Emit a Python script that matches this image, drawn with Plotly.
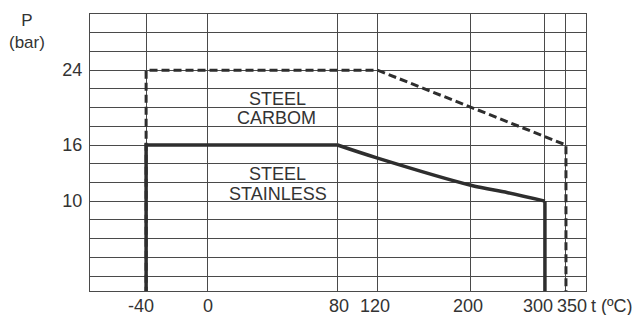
import numpy as np
import plotly.graph_objects as go

# ---- data ----
TEMP_TICKS = [-40, 0, 80, 120, 200, 300, 350]
TEMP_TICK_TEXT = ["-40", "0", "80", "120", "200", "300", "350"]
P_TICKS = [10, 16, 24]
P_TICK_TEXT = ["10", "16", "24"]

carbon_t = [-40, -40, 120, 350, 350]
carbon_p = [0, 24, 24, 16, 0]

stainless_flat_t = [-40, -40, 80]
stainless_flat_p = [0, 16, 16]
stainless_curve_t = [80, 120, 200, 250, 300]
stainless_curve_p = [16, 14.6, 11.7, 10.9, 10]
stainless_end_t = [300, 300]
stainless_end_p = [10, 0]

# ---- schematic (non-linear) temperature scale of the drawing ----
SCALE_POS = [56, 117, 247, 287, 380, 454, 475]
X_RANGE = [0, 495]
# horizontal nudges (px) of the temperature labels, as set in the drawing
LABEL_SHIFT = [-5, 1, 1, -3, -3, -7, 6]


def to_x(t):
    return list(np.interp(t, TEMP_TICKS, SCALE_POS))


INK = "#2e2e2e"
GRID = "#4a4a4a"
TXT = "#333333"
FONT = "Liberation Sans, Arial, sans-serif"
FS = 18

fig = go.Figure()
fig.add_trace(go.Scatter(x=to_x(carbon_t), y=carbon_p, mode="lines",
                         line=dict(color=INK, width=3, dash="8px,4px"),
                         hoverinfo="skip", showlegend=False))
fig.add_trace(go.Scatter(x=to_x(stainless_flat_t), y=stainless_flat_p, mode="lines",
                         line=dict(color=INK, width=3.5),
                         hoverinfo="skip", showlegend=False))
fig.add_trace(go.Scatter(x=to_x(stainless_curve_t), y=stainless_curve_p, mode="lines",
                         line=dict(color=INK, width=3.5, shape="spline", smoothing=1),
                         hoverinfo="skip", showlegend=False))
fig.add_trace(go.Scatter(x=to_x(stainless_end_t), y=stainless_end_p, mode="lines",
                         line=dict(color=INK, width=3.5),
                         hoverinfo="skip", showlegend=False))

font = dict(size=FS, color=TXT, family=FONT)

# temperature tick labels
for xv, txt, sh in zip(to_x(TEMP_TICKS), TEMP_TICK_TEXT, LABEL_SHIFT):
    fig.add_annotation(x=xv, y=-0.054, xref="x", yref="paper", text=txt,
                       showarrow=False, xanchor="center", yanchor="middle",
                       xshift=sh, font=font)

# in-plot labels and axis titles
labels = [
    ("STEEL", 0.379, 0.694),
    ("CARBOM", 0.377, 0.625),
    ("STEEL", 0.379, 0.422),
    ("STAINLESS", 0.379, 0.350),
    ("t (ºC)", 1.052, -0.054),
]
for txt, xp, yp in labels:
    fig.add_annotation(x=xp, y=yp, xref="paper", yref="paper", text=txt,
                       showarrow=False, xanchor="center", yanchor="middle", font=font)

fig.add_annotation(x=-0.127, y=0.938, xref="paper", yref="paper", text="P<br>(bar)",
                   showarrow=False, xanchor="center", yanchor="middle", align="center",
                   font=dict(size=17, color=TXT, family=FONT))

fig.update_xaxes(range=X_RANGE, tickmode="array", tickvals=to_x(TEMP_TICKS),
                 ticktext=TEMP_TICK_TEXT, showticklabels=False, automargin=False,
                 showgrid=True, gridcolor=GRID, gridwidth=1,
                 zeroline=False, showline=True, linecolor=GRID, linewidth=1, mirror=True,
                 ticks="", fixedrange=True)
fig.update_yaxes(range=[0.4, 30], tickmode="array", tickvals=P_TICKS, ticktext=P_TICK_TEXT,
                 automargin=False, ticklabelstandoff=3,
                 showgrid=True, gridcolor=GRID, gridwidth=1,
                 minor=dict(tick0=0, dtick=2, showgrid=True, gridcolor=GRID, gridwidth=1),
                 zeroline=False, showline=True, linecolor=GRID, linewidth=1, mirror=True,
                 ticks="", fixedrange=True, tickfont=font)

fig.update_layout(width=639, height=315,
                  margin=dict(l=90, r=53, t=14, b=24, pad=0, autoexpand=False),
                  paper_bgcolor="white", plot_bgcolor="white",
                  font=dict(family=FONT, color=TXT),
                  showlegend=False)

fig.write_html("out.html", config={"displayModeBar": False},
               post_script="document.body.style.margin='0';")
